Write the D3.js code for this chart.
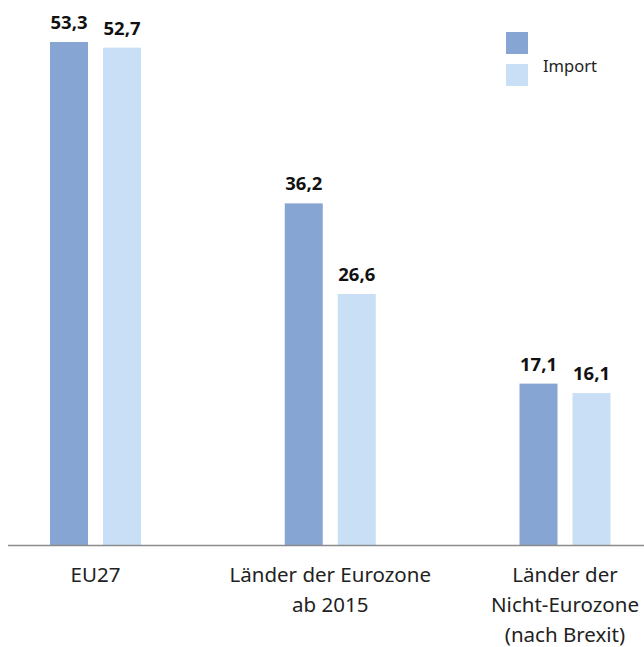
<!DOCTYPE html>
<html><head><meta charset="utf-8">
<script src="https://cdn.jsdelivr.net/npm/d3@7"></script>
<style>body{margin:0;background:#fff}svg{display:block}</style>
</head><body>
<svg id="c" width="644" height="647"></svg>
<script>
const categories = [["EU27"], ["Länder der Eurozone", "ab 2015"], ["Länder der", "Nicht-Eurozone", "(nach Brexit)"]];
const seriesNames = ["", "Import"];
const seriesA = [53.3, 36.2, 17.1];
const seriesB = [52.7, 26.6, 16.1];
const colors = ["#87a5d3", "#c8dff5"];

const svg = d3.select("#c");
const font = "'Noto Sans', 'Open Sans', sans-serif";
const ids = categories.map((c, i) => i);
const x0 = d3.scalePoint().domain(ids).range([95.5, 565]);
const x1 = d3.scaleBand().domain([0, 1]).range([-45.5, 45.5]).paddingInner(15 / 53);
const y = d3.scaleLinear().domain([0, 53.3]).range([545, 42]);
const fmt = v => d3.format(".1f")(v).replace(".", ",");

const data = ids.map(i => [seriesA[i], seriesB[i]]);
const g = svg.selectAll("g.grp").data(data).join("g").attr("class", "grp")
  .attr("transform", (d, i) => `translate(${x0(i)},0)`);
g.selectAll("rect").data(d => d).join("rect")
  .attr("x", (d, j) => x1(j)).attr("width", x1.bandwidth())
  .attr("y", d => y(d)).attr("height", d => y(0) - y(d))
  .attr("fill", (d, j) => colors[j]);
g.selectAll("text.v").data(d => d).join("text").attr("class", "v")
  .attr("x", (d, j) => x1(j) + x1.bandwidth() / 2)
  .attr("y", d => y(d) - 13)
  .attr("text-anchor", "middle").attr("font-family", font)
  .attr("font-weight", "bold").attr("font-size", 18.5).attr("fill", "#111")
  .text(fmt);

// axis
const axis = svg.append("g").attr("transform", `translate(0,${y(0)})`)
  .call(d3.axisBottom(x0).tickSize(0).tickFormat(""));
axis.select(".domain").attr("d", "M8,0.5H644").attr("stroke", "#8c8c8c").attr("stroke-width", 1.5);

const lbl = svg.append("g");
categories.forEach((lines, i) => {
  const t = lbl.append("text").attr("x", x0(i)).attr("y", 582)
    .attr("text-anchor", "middle").attr("font-family", font)
    .attr("font-size", 20.5).attr("fill", "#222");
  lines.forEach((l, k) => t.append("tspan").attr("x", x0(i)).attr("dy", k ? 30 : 0).text(l));
});

// legend
const leg = svg.append("g").attr("transform", "translate(506,32)");
seriesNames.forEach((n, j) => {
  leg.append("rect").attr("x", 0).attr("y", j * 32).attr("width", 22).attr("height", 22).attr("fill", colors[j]);
  if (n) leg.append("text").attr("x", 37).attr("y", 72)
    .attr("transform", "translate(0,-32)")
    .attr("font-family", font).attr("font-size", 16.5).attr("fill", "#222").text(n);
});
</script>
</body></html>
